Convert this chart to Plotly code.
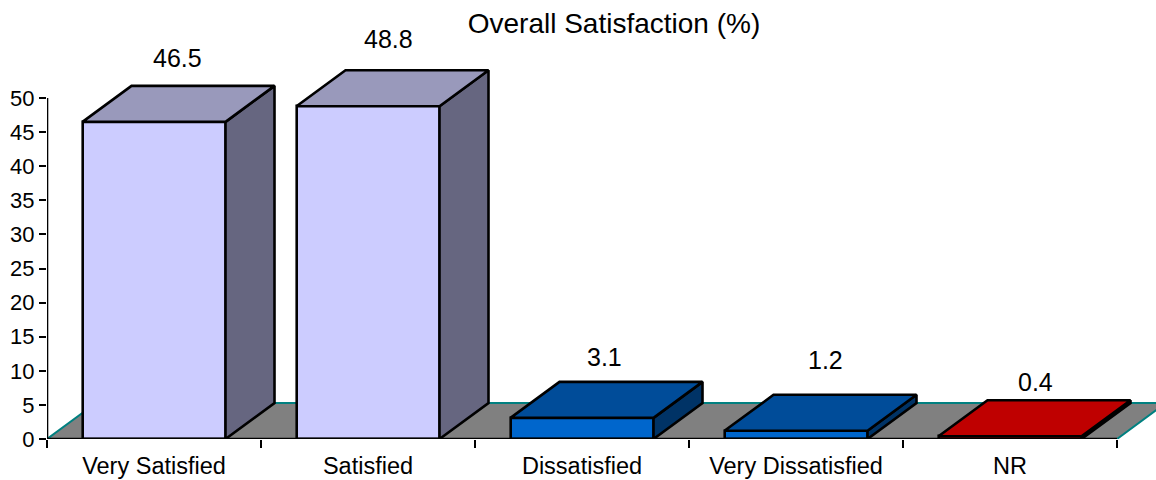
import plotly.graph_objects as go

categories = ["Very Satisfied", "Satisfied", "Dissatisfied", "Very Dissatisfied", "NR"]
values = [46.5, 48.8, 3.1, 1.2, 0.4]
y_ticks = [0, 5, 10, 15, 20, 25, 30, 35, 40, 45, 50]

front_colors = ["#CCCCFF", "#CCCCFF", "#0066CC", "#0066CC", "#FF0000"]
top_colors = ["#9999BB", "#9999BB", "#004C99", "#004C99", "#BF0000"]
side_colors = ["#666680", "#666680", "#003366", "#003366", "#800000"]
label_shift = [(-1, 1), (-4, 4), (-2, -2), (5, 8), (1, -9)]

FONT = "Liberation Sans, Arial, sans-serif"
W, H = 1156, 480
L, B = 47, 41
PX_X, PX_Y = 214.0, 6.82
DX, DY = 49 / PX_X, 36 / PX_Y
BAR_W = 143 / PX_X
LW = 2.6
n = len(categories)
xs = [i + 0.5 for i in range(n)]

fig = go.Figure()

# front faces
fig.add_trace(go.Bar(
    x=xs, y=values, width=BAR_W, marker=dict(color=front_colors, line=dict(color="black", width=LW)),
    cliponaxis=False, hoverinfo="skip", showlegend=False))

# tops and sides derived from the values
for x, v, tc, sc in zip(xs, values, top_colors, side_colors):
    x0, x1 = x - BAR_W / 2, x + BAR_W / 2
    fig.add_trace(go.Scatter(
        x=[x1, x1 + DX, x1 + DX, x1, x1], y=[0, DY, v + DY, v, 0], mode="lines", fill="toself",
        fillcolor=sc, line=dict(color="black", width=LW), cliponaxis=False, hoverinfo="skip", showlegend=False))
    fig.add_trace(go.Scatter(
        x=[x0, x0 + DX, x1 + DX, x1, x0], y=[v, v + DY, v + DY, v, v], mode="lines", fill="toself",
        fillcolor=tc, line=dict(color="black", width=LW), cliponaxis=False, hoverinfo="skip", showlegend=False))

# axis lines that stop at the last tick
fig.add_trace(go.Scatter(x=[0, 0], y=[y_ticks[0], y_ticks[-1]], mode="lines", line=dict(color="black", width=LW),
                         cliponaxis=False, hoverinfo="skip", showlegend=False))
fig.add_trace(go.Scatter(x=[0, n], y=[0, 0], mode="lines", line=dict(color="black", width=LW),
                         cliponaxis=False, hoverinfo="skip", showlegend=False))

annotations = [
    dict(x=x + DX / 2, y=v + DY, text=f"{v}", showarrow=False, xanchor="center", yanchor="middle",
         xshift=sx, yshift=27 + sy, font=dict(family=FONT, size=25, color="black"))
    for x, v, (sx, sy) in zip(xs, values, label_shift)
]

fig.update_layout(
    width=W, height=H, autosize=False, margin=dict(l=L, r=0, t=0, b=B, pad=0, autoexpand=False),
    paper_bgcolor="white", plot_bgcolor="white", showlegend=False, bargap=0,
    font=dict(family=FONT, color="black"),
    title=dict(text="Overall Satisfaction (%)", x=614 / W, y=1 - 23 / H, xanchor="center", yanchor="middle",
               xref="container", yref="container", font=dict(family=FONT, size=28, color="black")),
    annotations=annotations,
    shapes=[dict(type="path", layer="below", xref="x", yref="y",
                 path=f"M 0 0 L {DX} {DY} L {n + DX} {DY} L {n} 0 Z",
                 fillcolor="#808080", line=dict(color="#008080", width=2))],
    xaxis=dict(range=[0, (W - L) / PX_X], tickvals=xs, ticktext=categories, ticks="outside", ticklen=6,
               tickcolor="rgba(0,0,0,0)", tickfont=dict(family=FONT, size=23.5), showgrid=False, zeroline=False,
               showline=False,
               minor=dict(tickvals=list(range(n + 1)), ticks="outside", ticklen=8, tickwidth=2, tickcolor="black",
                          showgrid=False)),
    yaxis=dict(range=[0, (H - B) / PX_Y], tickvals=y_ticks, ticks="outside", ticklen=7, tickwidth=2, tickcolor="black",
               tickfont=dict(family=FONT, size=22), showgrid=False, zeroline=False, showline=False),
)

fig.write_html("out.html", config={"displayModeBar": False},
               post_script="document.body.style.margin='0';document.body.style.overflow='hidden';")
